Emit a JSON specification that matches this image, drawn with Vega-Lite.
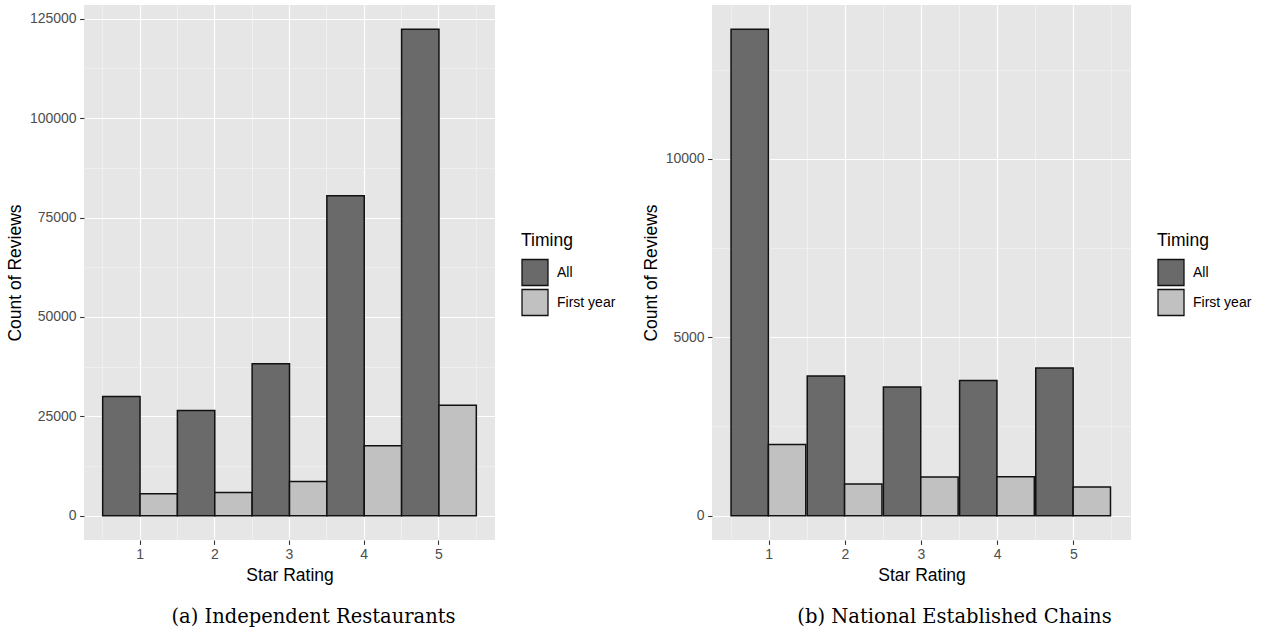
{
  "$schema": "https://vega.github.io/schema/vega-lite/v6.json",
  "padding": {"left": 6, "top": 5, "right": 0, "bottom": 0},
  "background": "white",
  "config": {
    "view": {"fill": "#E6E6E6", "stroke": null},
    "font": "Liberation Sans",
    "axis": {
      "labelFont": "Liberation Sans",
      "labelFontSize": 14,
      "labelColor": "#4D4D4D",
      "labelPadding": 3.5,
      "tickSize": 4.4,
      "tickColor": "#333333",
      "tickWidth": 1.1,
      "domain": false,
      "titleFont": "Liberation Sans",
      "titleFontSize": 17.5,
      "titleFontWeight": "normal",
      "titleColor": "black",
      "gridColor": "white",
      "gridWidth": 1.2,
      "gridOpacity": 1
    },
    "legend": {
      "titleFont": "Liberation Sans",
      "titleFontSize": 17.5,
      "titleFontWeight": "normal",
      "titleColor": "black",
      "labelFont": "Liberation Sans",
      "labelFontSize": 14,
      "labelColor": "black",
      "symbolType": "square",
      "symbolSize": 676,
      "symbolStrokeColor": "#111111",
      "symbolStrokeWidth": 1.3,
      "symbolOpacity": 1,
      "rowPadding": -4,
      "labelOffset": 8,
      "titlePadding": 9,
      "padding": 0
    },
    "title": {"font": "DejaVu Serif", "fontSize": 19.5, "fontWeight": "normal", "color": "black"}
  },
  "spacing": 26,
  "hconcat": [
    {
      "width": 411,
      "height": 535,
      "title": {"text": "(a) Independent Restaurants", "orient": "bottom", "anchor": "middle", "frame": "group", "offset": 24, "dx": 24},
      "data": {"values": [
        {"rating": 1, "timing": "All", "count": 29970},
        {"rating": 1, "timing": "First year", "count": 5530},
        {"rating": 2, "timing": "All", "count": 26460},
        {"rating": 2, "timing": "First year", "count": 5860},
        {"rating": 3, "timing": "All", "count": 38190},
        {"rating": 3, "timing": "First year", "count": 8620},
        {"rating": 4, "timing": "All", "count": 80500},
        {"rating": 4, "timing": "First year", "count": 17590},
        {"rating": 5, "timing": "All", "count": 122350},
        {"rating": 5, "timing": "First year", "count": 27800}
      ]},
      "layer": [
        {
          "mark": {"type": "bar", "stroke": "#111111", "strokeWidth": 1.5},
          "encoding": {
            "x": {"field": "rating", "type": "ordinal", "scale": {"paddingInner": 0, "paddingOuter": 0.25},
                  "axis": {"orient": "bottom", "title": "Star Rating", "labelAngle": 0, "grid": true, "bandPosition": 0.5, "titlePadding": 5}},
            "xOffset": {"field": "timing", "type": "nominal", "scale": {"paddingInner": 0, "paddingOuter": 0}},
            "y": {"field": "count", "type": "quantitative", "stack": null, "scale": {"domain": [-6118, 128468], "nice": false, "zero": false},
                  "axis": {"orient": "left", "title": "Count of Reviews", "values": [0, 25000, 50000, 75000, 100000, 125000], "format": "d", "grid": true, "titlePadding": 5}},
            "color": {"field": "timing", "type": "nominal", "scale": {"domain": ["All", "First year"], "range": ["#6A6A6A", "#C1C1C1"]},
                      "legend": {"title": "Timing", "orient": "none", "legendX": 437, "legendY": 227}}
          }
        },
        {
          "mark": {"type": "bar", "opacity": 0, "clip": true},
          "encoding": {
            "x": {"field": "rating", "type": "ordinal",
                  "axis": {"orient": "top", "bandPosition": 0, "grid": true, "gridWidth": 0.6, "gridColor": "#F4F4F4", "labels": false, "ticks": false, "domain": false, "title": null}},
            "y": {"field": "count", "type": "quantitative", "stack": null,
                  "axis": {"orient": "right", "values": [12500, 37500, 62500, 87500, 112500], "grid": true, "gridWidth": 0.6, "gridColor": "#F4F4F4", "labels": false, "ticks": false, "domain": false, "title": null}}
          }
        },
        {
          "mark": {"type": "bar", "opacity": 0, "clip": true},
          "encoding": {
            "x": {"field": "rating", "type": "ordinal",
                  "axis": {"orient": "top", "bandPosition": 1, "grid": true, "gridWidth": 0.6, "gridColor": "#F4F4F4", "labels": false, "ticks": false, "domain": false, "title": null}}
          }
        }
      ],
      "resolve": {"axis": {"x": "independent", "y": "independent"}}
    },
    {
      "width": 419,
      "height": 535,
      "title": {"text": "(b) National Established Chains", "orient": "bottom", "anchor": "middle", "frame": "group", "offset": 24, "dx": 33},
      "data": {"values": [
        {"rating": 1, "timing": "All", "count": 13630},
        {"rating": 1, "timing": "First year", "count": 1995},
        {"rating": 2, "timing": "All", "count": 3917},
        {"rating": 2, "timing": "First year", "count": 886},
        {"rating": 3, "timing": "All", "count": 3609},
        {"rating": 3, "timing": "First year", "count": 1082},
        {"rating": 4, "timing": "All", "count": 3787},
        {"rating": 4, "timing": "First year", "count": 1091},
        {"rating": 5, "timing": "All", "count": 4141},
        {"rating": 5, "timing": "First year", "count": 803}
      ]},
      "layer": [
        {
          "mark": {"type": "bar", "stroke": "#111111", "strokeWidth": 1.5},
          "encoding": {
            "x": {"field": "rating", "type": "ordinal", "scale": {"paddingInner": 0, "paddingOuter": 0.25},
                  "axis": {"orient": "bottom", "title": "Star Rating", "labelAngle": 0, "grid": true, "bandPosition": 0.5, "titlePadding": 5}},
            "xOffset": {"field": "timing", "type": "nominal", "scale": {"paddingInner": 0, "paddingOuter": 0}},
            "y": {"field": "count", "type": "quantitative", "stack": null, "scale": {"domain": [-681.5, 14311.5], "nice": false, "zero": false},
                  "axis": {"orient": "left", "title": "Count of Reviews", "values": [0, 5000, 10000], "format": "d", "grid": true, "titlePadding": 5}},
            "color": {"field": "timing", "type": "nominal", "scale": {"domain": ["All", "First year"], "range": ["#6A6A6A", "#C1C1C1"]},
                      "legend": {"title": "Timing", "orient": "none", "legendX": 445, "legendY": 227}}
          }
        },
        {
          "mark": {"type": "bar", "opacity": 0, "clip": true},
          "encoding": {
            "x": {"field": "rating", "type": "ordinal",
                  "axis": {"orient": "top", "bandPosition": 0, "grid": true, "gridWidth": 0.6, "gridColor": "#F4F4F4", "labels": false, "ticks": false, "domain": false, "title": null}},
            "y": {"field": "count", "type": "quantitative", "stack": null,
                  "axis": {"orient": "right", "values": [2500, 7500, 12500], "grid": true, "gridWidth": 0.6, "gridColor": "#F4F4F4", "labels": false, "ticks": false, "domain": false, "title": null}}
          }
        },
        {
          "mark": {"type": "bar", "opacity": 0, "clip": true},
          "encoding": {
            "x": {"field": "rating", "type": "ordinal",
                  "axis": {"orient": "top", "bandPosition": 1, "grid": true, "gridWidth": 0.6, "gridColor": "#F4F4F4", "labels": false, "ticks": false, "domain": false, "title": null}}
          }
        }
      ],
      "resolve": {"axis": {"x": "independent", "y": "independent"}}
    }
  ],
  "resolve": {"scale": {"color": "independent", "x": "independent", "y": "independent"}, "legend": {"color": "independent"}}
}
